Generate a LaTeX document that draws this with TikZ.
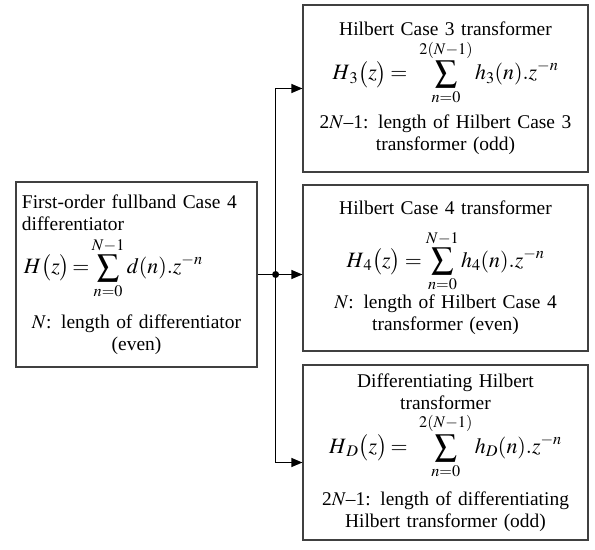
\documentclass[tikz,border=0pt]{standalone}
\usepackage{amsmath}
\usepackage{mathptmx}
\usepackage{fontspec}
\setmainfont{Liberation Serif}
\usetikzlibrary{arrows.meta,positioning}

\newcommand{\formsize}{\fontsize{22}{24}\selectfont}

\begin{document}
\begin{tikzpicture}[x=1bp, y=-1bp, every node/.style={font=\fontsize{19.5}{22}\selectfont}, box/.style={draw=black!75,line width=1.2bp,align=center,inner xsep=6bp,inner ysep=0pt}, >={Triangle[length=11bp,width=9bp]}, line width=1.2bp]
\useasboundingbox (0,0) rectangle (595,550);
\node[box, text width=229bp, minimum height=185bp] (diff) at (136.5,274.5) {{\raggedright First-order fullband Case 4\\differentiator\par
\vspace{6bp}\hspace*{2bp}{\formsize$\displaystyle H\bigl(z\bigr)\!=\!\sum_{n=0}^{N-1} d(n).z^{-n}$}\par}
\vspace{15bp}$N$: length of differentiator\\(even)};
\node[box, text width=273bp, minimum height=167bp] (hilb3) at (445.5,88.5) {Hilbert Case 3 transformer\\[3bp]
{\formsize$\displaystyle H_{\,3}\bigl(z\bigr)\!=\;\sum_{n=0}^{2(N-1)} h_3(n).z^{-n}$}\\[9bp]
2$N$--1: length of Hilbert Case 3\\transformer (odd)};
\node[box, text width=273bp, minimum height=166bp] (hilb4) at (445.5,268) {Hilbert Case 4 transformer\\[15bp]
{\formsize$\displaystyle H_{\,4}\bigl(z\bigr)\!=\!\sum_{n=0}^{N-1} h_4(n).z^{-n}$}\\[2bp]
$N$: length of Hilbert Case 4\\transformer (even)};
\node[box, text width=273bp, minimum height=175bp] (diffhilb) at (445.5,452.5) {Differentiating Hilbert\\transformer\\[3bp]
{\formsize$\displaystyle H_{\,D}\bigl(z\bigr)\!=\;\sum_{n=0}^{2(N-1)} h_D(n).z^{-n}$}\\[12bp]
2$N$--1: length of differentiating\\Hilbert transformer (odd)};
\coordinate (split) at ([xshift=18bp]diff.east);
% branches to the three transformers
\draw (diff.east) -- (split);
\draw[->] (split) |- (hilb3.west);
\draw[->] (split) -- (hilb4.west |- split);
\draw[->] (split) |- ([yshift=-10bp]diffhilb.west);
\fill (split) circle (3.5bp);
\end{tikzpicture}
\end{document}
